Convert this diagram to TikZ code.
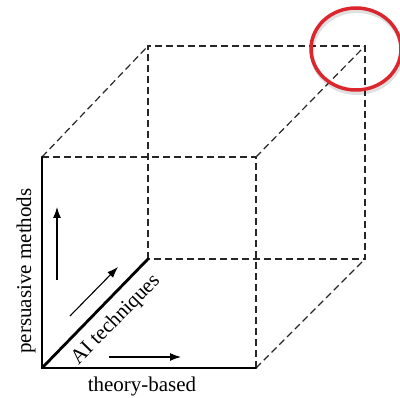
\documentclass[tikz,border=0pt]{standalone}
\usepackage{fontspec}
\setmainfont{Liberation Serif}
\usepackage{tikz}
\usetikzlibrary{positioning, arrows.meta, shapes, calc}
\definecolor{MarkRed}{RGB}{218,38,44}

\begin{document}
\begin{tikzpicture}[x=1pt, y=-1pt,
    edge/.style={line width=2.8pt, line cap=round},
    hidden/.style={line width=1.2pt, dash pattern=on 7pt off 4pt, black!85},
    dir/.style={-{Latex[length=11pt, width=8pt]}, line width=1.1pt},
    axlabel/.style={font=\fontsize{21}{25}\selectfont, inner sep=0pt}]
                \useasboundingbox (0,0) rectangle (400,398);
                % Esquinas
                \coordinate (FBL) at (42,368);
                \coordinate (FBR) at (256,368);
                \coordinate (FTL) at (42,157);
                \coordinate (FTR) at (256,157);
                \coordinate (BBL) at (148,259);
                \coordinate (BBR) at (365,259);
                \coordinate (BTL) at (148,46);
                \coordinate (BTR) at (365,46);

                % Aristas ocultas
                \draw[hidden] (FTL) -- (FTR) -- (FBR);
                \draw[hidden] (BBL) -- (BTL) -- (BTR) -- (BBR) -- (BBL);
                \draw[hidden] (FTL) -- (BTL);
                \draw[hidden] (FTR) -- (BTR);
                \draw[hidden] (FBR) -- (BBR);

                % Ejes
                \draw[edge] (FTL) -- (FBL) -- (FBR);
                \draw[edge] (FBL) -- (BBL);

                % Flechas
                \coordinate (vs) at (57,280);
                \coordinate (ve) at (57,207);
                \coordinate (ds) at (70,316);
                \coordinate (de) at (118,267);
                \coordinate (hs) at (109,357);
                \coordinate (he) at (181,357);
                \draw[dir] (vs) -- (ve);
                \draw[dir] (ds) -- (de);
                \draw[dir] (hs) -- (he);

                % Etiquetas
                \node[axlabel, rotate=90] (persuasive) at (26,271) {persuasive methods};
                \node[axlabel] (theory) at (142,386) {theory-based};
                \node[axlabel, rotate=45.5] (ai) at (116,320) {AI techniques};

                % Marca
                \node[ellipse, draw=black, opacity=0.12, line width=4pt, minimum width=90pt, minimum height=82pt] (shadow) at (357,52) {};
                \node[ellipse, draw=MarkRed, line width=3.5pt, minimum width=90pt, minimum height=82pt] (mark) at (356,49) {};
            \end{tikzpicture}
\end{document}
